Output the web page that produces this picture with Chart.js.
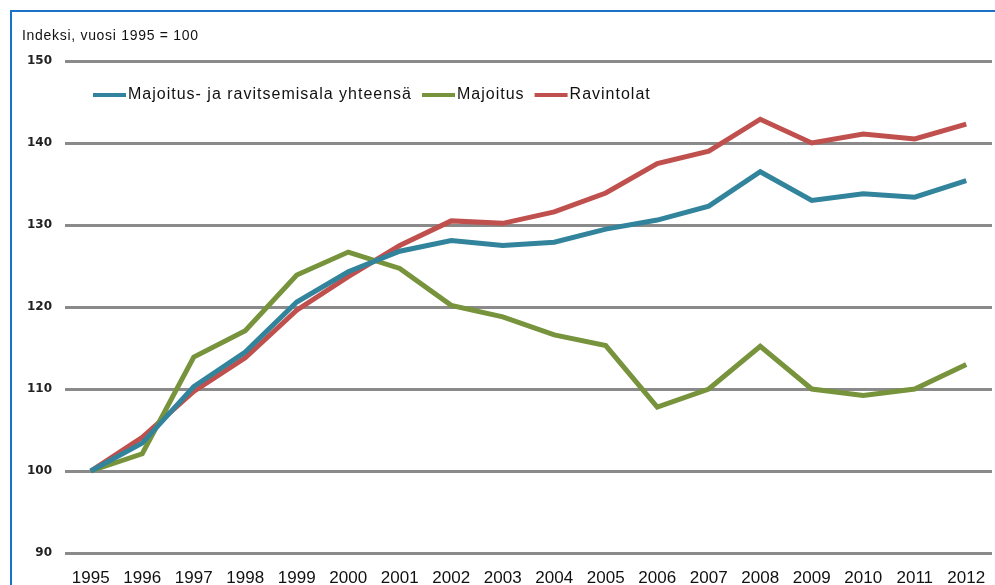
<!DOCTYPE html>
<html lang="fi">
<head>
<meta charset="utf-8">
<script src="https://cdn.jsdelivr.net/npm/chart.js@4/dist/chart.umd.min.js"></script>
<style>
  html, body { margin: 0; padding: 0; background: #fff; overflow: hidden; }
  #wrap { position: relative; width: 995px; height: 585px; }
  #frame { position: absolute; left: 10px; top: 10px; width: 1000px; height: 600px;
           border-left: 2px solid #1a73c9; border-top: 2px solid #1a73c9; box-sizing: border-box; pointer-events: none; }
  canvas { position: absolute; left: 0; top: 0; }
</style>
</head>
<body>
<div id="wrap">
  <canvas id="c" width="995" height="585"></canvas>
  <div id="frame"></div>
</div>
<script>
// Index series, 1995 = 100
const years = ['1995','1996','1997','1998','1999','2000','2001','2002','2003','2004','2005','2006','2007','2008','2009','2010','2011','2012'];
const yhteensa  = [100, 103.4, 110.3, 114.5, 120.6, 124.3, 126.8, 128.1, 127.5, 127.9, 129.5, 130.6, 132.3, 136.5, 133.0, 133.8, 133.4, 135.4];
const majoitus  = [100, 102.1, 113.9, 117.1, 123.9, 126.7, 124.7, 120.2, 118.8, 116.6, 115.3, 107.8, 110.0, 115.2, 110.0, 109.2, 110.0, 113.0];
const ravintolat = [100, 104.1, 109.7, 113.8, 119.6, 123.7, 127.5, 130.5, 130.2, 131.6, 133.9, 137.5, 139.0, 142.9, 140.0, 141.1, 140.5, 142.3];
const seriesNames = ['Majoitus- ja ravitsemisala yhteensä', 'Majoitus', 'Ravintolat'];
const seriesColors = ['#31849b', '#77933c', '#c0504d'];
const yTitle = 'Indeksi, vuosi 1995 = 100';

// Axis title in the top-left corner and a horizontal legend inside the plot
const decorations = {
  id: 'decorations',
  afterDraw(chart) {
    const ctx = chart.ctx;
    ctx.save();
    ctx.fillStyle = '#111';
    ctx.font = '14px "Liberation Sans", Arial, sans-serif';
    ctx.letterSpacing = '0.7px';
    ctx.textBaseline = 'middle';
    ctx.textAlign = 'left';
    ctx.fillText(yTitle, 22, 36);

    ctx.font = '16px "Liberation Sans", Arial, sans-serif';
    ctx.letterSpacing = '1px';
    let x = 93;
    const y = 95;
    chart.data.datasets.forEach((ds, i) => {
      ctx.strokeStyle = ds.borderColor;
      ctx.lineWidth = 4;
      ctx.beginPath();
      ctx.moveTo(x, y);
      ctx.lineTo(x + 33, y);
      ctx.stroke();
      x += 35;
      ctx.fillStyle = '#111';
      ctx.fillText(ds.label, x, y);
      x += ctx.measureText(ds.label).width + 10;
    });
    ctx.restore();
  }
};

new Chart(document.getElementById('c'), {
  type: 'line',
  data: {
    labels: years,
    datasets: [yhteensa, majoitus, ravintolat].map((d, i) => ({
      label: seriesNames[i],
      data: d,
      borderColor: seriesColors[i],
      backgroundColor: seriesColors[i],
      borderWidth: 5,
      pointRadius: 0,
      tension: 0,
      fill: false
    }))
  },
  options: {
    responsive: false,
    animation: false,
    layout: { padding: { left: 0, right: 3, top: 61, bottom: 0 } },
    plugins: { legend: { display: false }, tooltip: { enabled: false } },
    scales: {
      x: {
        offset: true,
        grid: { display: false, drawTicks: false },
        border: { display: false },
        ticks: { color: '#111', padding: 15, maxRotation: 0, autoSkip: false,
                 font: { family: '"Liberation Sans", Arial, sans-serif', size: 17 } },
        afterFit(s) { s.height = 32; s.paddingLeft = 0; s.paddingRight = 0; }
      },
      y: {
        min: 90, max: 150,
        ticks: { stepSize: 10, color: '#222', padding: 13,
                 font: { family: '"DejaVu Sans", sans-serif', size: 12, weight: 'bold' } },
        grid: { color: '#8a8a8a', lineWidth: 3, drawTicks: false },
        border: { display: false },
        afterFit(s) { s.width = 65; }
      }
    }
  },
  plugins: [decorations]
});
</script>
</body>
</html>
